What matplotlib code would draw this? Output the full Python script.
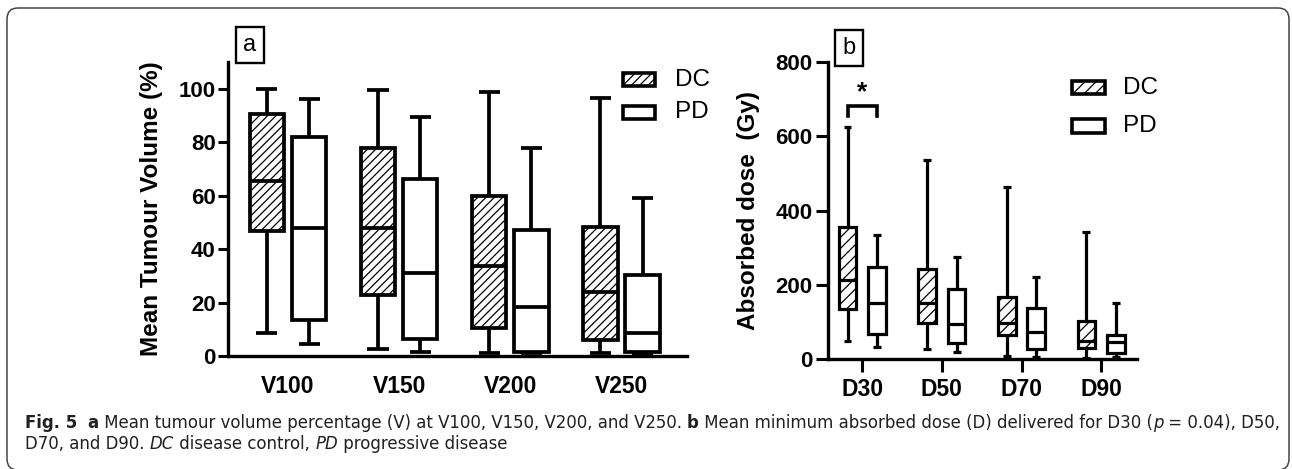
import matplotlib
matplotlib.use("Agg")
import matplotlib.pyplot as plt
from matplotlib import font_manager
from matplotlib.font_manager import FontProperties
from matplotlib.patches import Rectangle, FancyBboxPatch
from matplotlib.transforms import IdentityTransform

# ---------------- data ----------------
v_categories = ["V100", "V150", "V200", "V250"]
v_dc_whislo = [8.5, 2.5, 1.2, 1.0]
v_dc_q1 = [46.6, 22.8, 10.4, 6.0]
v_dc_med = [65.3, 48.0, 33.8, 24.1]
v_dc_q3 = [90.6, 78.0, 59.7, 48.2]
v_dc_whishi = [100.0, 99.5, 98.6, 96.5]

v_pd_whislo = [4.5, 1.6, 1.0, 0.8]
v_pd_q1 = [13.5, 6.2, 1.6, 1.5]
v_pd_med = [47.8, 31.0, 18.5, 8.5]
v_pd_q3 = [81.8, 66.2, 47.2, 30.3]
v_pd_whishi = [96.1, 89.6, 77.8, 59.0]

d_categories = ["D30", "D50", "D70", "D90"]
d_dc_whislo = [49, 27, 8, 4]
d_dc_q1 = [134, 96, 65, 29]
d_dc_med = [213, 150, 96, 49]
d_dc_q3 = [355, 242, 168, 103]
d_dc_whishi = [624, 536, 463, 343]

d_pd_whislo = [31, 18, 6, 5]
d_pd_q1 = [67, 44, 26, 17]
d_pd_med = [152, 94, 74, 46]
d_pd_q3 = [247, 188, 137, 65]
d_pd_whishi = [334, 274, 222, 150]

v_yticks = [0, 20, 40, 60, 80, 100]
d_yticks = [0, 200, 400, 600, 800]
legend_labels = ["DC", "PD"]
sig_bracket = [655, 682]   # bracket leg bottom / top (Gy)
sig_star_y = 718

caption_line1 = [("Fig. 5", "bold", "normal"), ("  ", "normal", "normal"), ("a", "bold", "normal"),
                 (" Mean tumour volume percentage (V) at V100, V150, V200, and V250. ", "normal", "normal"),
                 ("b", "bold", "normal"),
                 (" Mean minimum absorbed dose (D) delivered for D30 (", "normal", "normal"),
                 ("p", "normal", "italic"), (" = 0.04), D50,", "normal", "normal")]
caption_line2 = [("D70, and D90. ", "normal", "normal"), ("DC", "normal", "italic"),
                 (" disease control, ", "normal", "normal"), ("PD", "normal", "italic"),
                 (" progressive disease", "normal", "normal")]

# ---------------- setup ----------------
W, H = 1292, 469
plt.rcParams["font.family"] = ["Liberation Sans", "DejaVu Sans"]
plt.rcParams["hatch.linewidth"] = 0.9
fig = plt.figure(figsize=(W / 100, H / 100), dpi=100)


def fx(px):
    return px / W


def fy(py):
    return 1 - py / H


def make_stats(lo, q1, med, q3, hi):
    return [dict(whislo=a, q1=b, med=c, q3=d, whishi=e, fliers=[])
            for a, b, c, d, e in zip(lo, q1, med, q3, hi)]


def draw_boxes(ax, stats, positions, width, capw, lw, hatch):
    ax.bxp(stats, positions=positions, widths=width, capwidths=capw,
           patch_artist=True, showfliers=False, manage_ticks=False,
           boxprops=dict(facecolor="white", edgecolor="black", linewidth=lw, hatch=hatch),
           medianprops=dict(color="black", linewidth=lw, solid_capstyle="butt"),
           whiskerprops=dict(color="black", linewidth=lw, solid_capstyle="butt"),
           capprops=dict(color="black", linewidth=lw, solid_capstyle="butt"))


def style_axis(ax, lw):
    for s in ["top", "right"]:
        ax.spines[s].set_visible(False)
    for s in ["left", "bottom"]:
        ax.spines[s].set_linewidth(lw)


# ---------------- panel a ----------------
axa = fig.add_axes([fx(228), fy(356), fx(687) - fx(228), fy(62) - fy(356)])
axa.patch.set_alpha(0)
ga = list(range(len(v_categories)))
off_a = 0.19
draw_boxes(axa, make_stats(v_dc_whislo, v_dc_q1, v_dc_med, v_dc_q3, v_dc_whishi),
           [g - off_a for g in ga], 0.31, 0.19, 2.7, "////")
draw_boxes(axa, make_stats(v_pd_whislo, v_pd_q1, v_pd_med, v_pd_q3, v_pd_whishi),
           [g + off_a for g in ga], 0.31, 0.19, 2.7, None)
axa.set_xlim(-0.54, 3.59)
axa.set_ylim(0, 110)
axa.set_yticks(v_yticks)
axa.set_xticks(ga)
axa.set_xticklabels(v_categories)
style_axis(axa, 2.4)
axa.tick_params(axis="y", length=7, width=2.2, pad=2, labelsize=16)
axa.tick_params(axis="x", length=0, pad=14, labelsize=16.5)
for t in axa.get_xticklabels() + axa.get_yticklabels():
    t.set_fontweight("bold")
axa.text(-0.166, 0.5, "Mean Tumour Volume (%)", transform=axa.transAxes, rotation=90,
         ha="center", va="center", fontsize=17.5, fontweight="bold")

# ---------------- panel b ----------------
axb = fig.add_axes([fx(828), fy(359), fx(1137) - fx(828), fy(62) - fy(359)])
axb.patch.set_alpha(0)
gb = list(range(len(d_categories)))
off_b = 0.185
draw_boxes(axb, make_stats(d_dc_whislo, d_dc_q1, d_dc_med, d_dc_q3, d_dc_whishi),
           [g - off_b for g in gb], 0.22, 0.1, 2.3, "///")
draw_boxes(axb, make_stats(d_pd_whislo, d_pd_q1, d_pd_med, d_pd_q3, d_pd_whishi),
           [g + off_b for g in gb], 0.22, 0.1, 2.3, None)
axb.set_xlim(-0.43, 3.45)
axb.set_ylim(0, 800)
axb.set_yticks(d_yticks)
axb.set_xticks(gb)
axb.set_xticklabels(d_categories)
style_axis(axb, 2.4)
axb.tick_params(axis="y", length=9, width=2.2, pad=2, labelsize=16)
axb.tick_params(axis="x", length=9, width=2.2, pad=5, labelsize=16.5)
for t in axb.get_xticklabels() + axb.get_yticklabels():
    t.set_fontweight("bold")
axb.text(-0.256, 0.5, "Absorbed dose  (Gy)", transform=axb.transAxes, rotation=90,
         ha="center", va="center", fontsize=17.5, fontweight="bold")

# significance bracket
x0, x1 = gb[0] - off_b, gb[0] + off_b
axb.plot([x0, x0, x1, x1], [sig_bracket[0], sig_bracket[1], sig_bracket[1], sig_bracket[0]],
         color="black", lw=2.6, solid_joinstyle="miter", clip_on=False)
axb.text(gb[0], sig_star_y, "*", ha="center", va="center", fontsize=19, fontweight="bold")

# ---------------- panel labels ----------------
for (xc, yc, lab) in [(250, 45, "a"), (849, 48, "b")]:
    fig.text(fx(xc), fy(yc), lab, ha="center", va="center", fontsize=17,
             bbox=dict(boxstyle="square,pad=0.3", facecolor="white", edgecolor="black", linewidth=1.7))

# ---------------- legends ----------------
leg_specs = [
    (623, 655, [79.5, 112.5], 675, 2.6, "////"),
    (1072, 1105, [87.5, 126], 1123, 2.6, "///"),
]
for (xl, xr, ys, xt, lw, hatch) in leg_specs:
    for lab, yc, h in zip(legend_labels, ys, [hatch, None]):
        r = Rectangle((fx(xl), fy(yc + 6.5)), fx(xr) - fx(xl), fy(yc - 6.5) - fy(yc + 6.5),
                      transform=fig.transFigure, facecolor="white", edgecolor="black",
                      linewidth=lw, hatch=h)
        fig.add_artist(r)
        fig.text(fx(xt), fy(yc), lab, ha="left", va="center", fontsize=17.5)

# ---------------- border ----------------
border = FancyBboxPatch((7, -1), 1282, H - 7, boxstyle="round,pad=0,rounding_size=11",
                        transform=IdentityTransform(), facecolor="none", edgecolor="#444444",
                        linewidth=1.1)
fig.add_artist(border)

# ---------------- caption ----------------
names = {(f.name, f.stretch) for f in font_manager.fontManager.ttflist}
fam_names = {n for n, _ in names}
if "Liberation Sans Narrow" in fam_names:
    cap_family, cap_stretch = "Liberation Sans Narrow", "normal"
elif ("DejaVu Sans", "condensed") in names:
    cap_family, cap_stretch = "DejaVu Sans", "condensed"
else:
    cap_family, cap_stretch = "Liberation Sans", "normal"

renderer = fig.canvas.get_renderer()


def measure(s, fp):
    a = renderer.get_text_width_height_descent(s + "|", fp, ismath=False)[0]
    b = renderer.get_text_width_height_descent("|", fp, ismath=False)[0]
    return a - b


def run_fp(weight, style, size):
    return FontProperties(family=cap_family, weight=weight, style=style, size=size,
                          stretch=cap_stretch)


def runs_width(runs, size):
    return sum(measure(t, run_fp(w, s, size)) for t, w, s in runs)


target = 1282 - 25
size = 12.0 * target / runs_width(caption_line1, 12.0)


def draw_runs(runs, x, y, size):
    for t, w, s in runs:
        fp = run_fp(w, s, size)
        fig.text(fx(x), fy(y), t, fontproperties=fp, ha="left", va="baseline", color="#231f20")
        x += measure(t, fp)


draw_runs(caption_line1, 25, 428, size)
draw_runs(caption_line2, 25, 449, size)

fig.savefig("out.png", dpi=100)
